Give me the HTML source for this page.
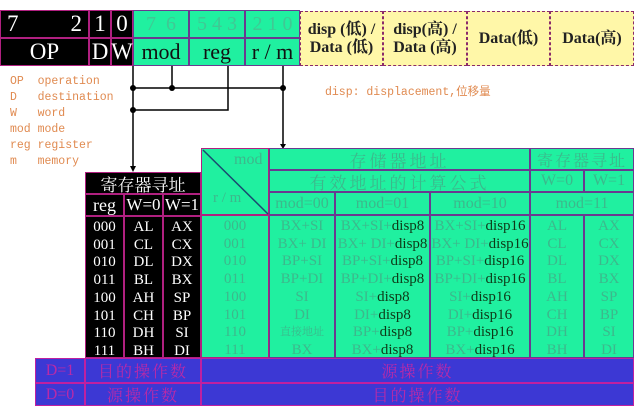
<!DOCTYPE html>
<html><head><meta charset="utf-8"><style>
body{margin:0;width:640px;height:413px;background:#fff;position:relative;overflow:hidden;font-family:"Liberation Serif","Noto Serif CJK SC",serif}
.a{position:absolute;box-sizing:border-box;display:flex;align-items:center;justify-content:center;white-space:nowrap}
.k{background:#000;color:#fff;border:1px solid #b02080}
.g{background:#20f0a0;color:#3cb88c;border:1px solid #6a3a90}
.y{background:#fff7a8;color:#222;border:1.5px dashed #8a2a6a;font-size:16px;line-height:18px;text-align:center;flex-direction:column;font-weight:bold}
.b{background:#3c38d4;color:#b82aa8;border:1px solid #c020a0;font-size:16px}
.m{position:absolute;font-family:"Liberation Mono","Noto Sans CJK SC",monospace;font-size:11.5px;color:#e08a50;white-space:pre}
.col{flex-direction:column;justify-content:space-around;font-size:15px;padding:2px 0}
.col div{line-height:17.7px}
.d{color:#0e3a18}
</style></head><body>
<div class="a k" style="left:0;top:10px;width:89px;height:28px;font-size:23px;justify-content:space-between;padding:0 6px"><span>7</span><span>2</span></div>
<div class="a k" style="left:89px;top:10px;width:22px;height:28px;font-size:23px">1</div>
<div class="a k" style="left:111px;top:10px;width:22px;height:28px;font-size:23px">0</div>
<div class="a k" style="left:0;top:38px;width:89px;height:28px;font-size:23px">OP</div>
<div class="a k" style="left:89px;top:38px;width:22px;height:28px;font-size:23px">D</div>
<div class="a k" style="left:111px;top:38px;width:22px;height:28px;font-size:23px">W</div>
<div class="a g" style="left:133px;top:10px;width:56px;height:28px;font-size:20px;color:#40c894">7 &nbsp;6</div>
<div class="a g" style="left:189px;top:10px;width:56px;height:28px;font-size:20px;color:#40c894">5 4 3</div>
<div class="a g" style="left:245px;top:10px;width:55px;height:28px;font-size:20px;color:#40c894">2 1 0</div>
<div class="a g" style="left:133px;top:38px;width:56px;height:28px;font-size:22px;color:#111">mod</div>
<div class="a g" style="left:189px;top:38px;width:56px;height:28px;font-size:22px;color:#111">reg</div>
<div class="a g" style="left:245px;top:38px;width:55px;height:28px;font-size:22px;color:#111">r / m</div>
<div class="a y" style="left:300px;top:11px;width:83px;height:55px"><span>disp (低) /</span><span>Data (低)</span></div>
<div class="a y" style="left:383px;top:11px;width:84px;height:55px"><span>disp(高) /</span><span>Data (高)</span></div>
<div class="a y" style="left:467px;top:11px;width:83px;height:55px">Data(低)</div>
<div class="a y" style="left:550px;top:11px;width:84px;height:55px">Data(高)</div>
<div class="m" style="left:10px;top:74px;line-height:16px">OP  operation
D   destination
W   word
mod mode
reg register
m   memory</div>
<div class="m" style="left:325px;top:83px">disp: displacement,位移量</div>
<svg style="position:absolute;left:0;top:0" width="640" height="413">
<g stroke="#000" stroke-width="1.5" fill="none">
<path d="M133 66V168M172 66V88M133 88H283M228 66V110H133M283 66V146"/>
</g>
<g fill="#000"><circle cx="133" cy="88" r="3"/><circle cx="172" cy="88" r="3"/><circle cx="283" cy="88" r="3"/><circle cx="133" cy="110" r="3"/>
<path d="M130 166h6l-3 6z"/><path d="M280 144h6l-3 5z"/></g>
</svg>
<div class="a k" style="left:85px;top:172px;width:116px;height:22px;font-size:17px">寄存器寻址</div>
<div class="a k" style="left:85px;top:194px;width:39px;height:22px;font-size:18px">reg</div>
<div class="a k" style="left:124px;top:194px;width:39px;height:22px;font-size:17px">W=0</div>
<div class="a k" style="left:163px;top:194px;width:38px;height:22px;font-size:17px">W=1</div>
<div class="a k col" style="left:85px;top:216px;width:39px;height:142px"><div>000</div><div>001</div><div>010</div><div>011</div><div>100</div><div>101</div><div>110</div><div>111</div></div>
<div class="a k col" style="left:124px;top:216px;width:39px;height:142px"><div>AL</div><div>CL</div><div>DL</div><div>BL</div><div>AH</div><div>CH</div><div>DH</div><div>BH</div></div>
<div class="a k col" style="left:163px;top:216px;width:38px;height:142px"><div>AX</div><div>CX</div><div>DX</div><div>BX</div><div>SP</div><div>BP</div><div>SI</div><div>DI</div></div>
<div class="a g" style="left:201px;top:148px;width:68px;height:67px;border-color:#b02080"></div>
<svg style="position:absolute;left:201px;top:148px" width="68" height="67"><line x1="2" y1="2" x2="67" y2="66" stroke="#1a4a70" stroke-width="1.5"/></svg>
<div style="position:absolute;left:234px;top:151px;font-size:16px;color:#3cb88c">mod</div>
<div style="position:absolute;left:213px;top:190px;font-size:15px;color:#3cb88c">r / m</div>
<div class="a g" style="left:269px;top:148px;width:261px;height:22px;font-size:17px;letter-spacing:3px">存储器地址</div>
<div class="a g" style="left:530px;top:148px;width:104px;height:22px;font-size:16px;letter-spacing:2px">寄存器寻址</div>
<div class="a g" style="left:269px;top:170px;width:261px;height:22px;font-size:17px;letter-spacing:3px">有效地址的计算公式</div>
<div class="a g" style="left:530px;top:170px;width:54px;height:22px;font-size:16px">W=0</div>
<div class="a g" style="left:584px;top:170px;width:50px;height:22px;font-size:16px">W=1</div>
<div class="a g" style="left:269px;top:192px;width:66px;height:23px;font-size:16px">mod=00</div>
<div class="a g" style="left:335px;top:192px;width:95px;height:23px;font-size:16px">mod=01</div>
<div class="a g" style="left:430px;top:192px;width:100px;height:23px;font-size:16px">mod=10</div>
<div class="a g" style="left:530px;top:192px;width:104px;height:23px;font-size:16px">mod=11</div>
<div class="a g col" style="left:201px;top:215px;width:68px;height:143px;border-color:#b02080"><div>000</div><div>001</div><div>010</div><div>011</div><div>100</div><div>101</div><div>110</div><div>111</div></div>
<div class="a g col" style="left:269px;top:215px;width:66px;height:143px"><div>BX+SI</div><div>BX+ DI</div><div>BP+SI</div><div>BP+DI</div><div>SI</div><div>DI</div><div style="font-size:11px">直接地址</div><div>BX</div></div>
<div class="a g col" style="left:335px;top:215px;width:95px;height:143px"><div>BX+SI+<span class="d">disp8</span></div><div>BX+ DI+<span class="d">disp8</span></div><div>BP+SI+<span class="d">disp8</span></div><div>BP+DI+<span class="d">disp8</span></div><div>SI+<span class="d">disp8</span></div><div>DI+<span class="d">disp8</span></div><div>BP+<span class="d">disp8</span></div><div>BX+<span class="d">disp8</span></div></div>
<div class="a g col" style="left:430px;top:215px;width:100px;height:143px"><div>BX+SI+<span class="d">disp16</span></div><div>BX+ DI+<span class="d">disp16</span></div><div>BP+SI+<span class="d">disp16</span></div><div>BP+DI+<span class="d">disp16</span></div><div>SI+<span class="d">disp16</span></div><div>DI+<span class="d">disp16</span></div><div>BP+<span class="d">disp16</span></div><div>BX+<span class="d">disp16</span></div></div>
<div class="a g col" style="left:530px;top:215px;width:54px;height:143px"><div>AL</div><div>CL</div><div>DL</div><div>BL</div><div>AH</div><div>CH</div><div>DH</div><div>BH</div></div>
<div class="a g col" style="left:584px;top:215px;width:50px;height:143px"><div>AX</div><div>CX</div><div>DX</div><div>BX</div><div>SP</div><div>BP</div><div>SI</div><div>DI</div></div>
<div class="a b" style="left:35px;top:358px;width:50px;height:25px">D=1</div>
<div class="a b" style="left:85px;top:358px;width:116px;height:25px;letter-spacing:2px">目的操作数</div>
<div class="a b" style="left:201px;top:358px;width:433px;height:25px;letter-spacing:2px">源操作数</div>
<div class="a b" style="left:35px;top:383px;width:50px;height:23px">D=0</div>
<div class="a b" style="left:85px;top:383px;width:116px;height:23px;letter-spacing:2px">源操作数</div>
<div class="a b" style="left:201px;top:383px;width:433px;height:23px;letter-spacing:2px">目的操作数</div>
</body></html>
